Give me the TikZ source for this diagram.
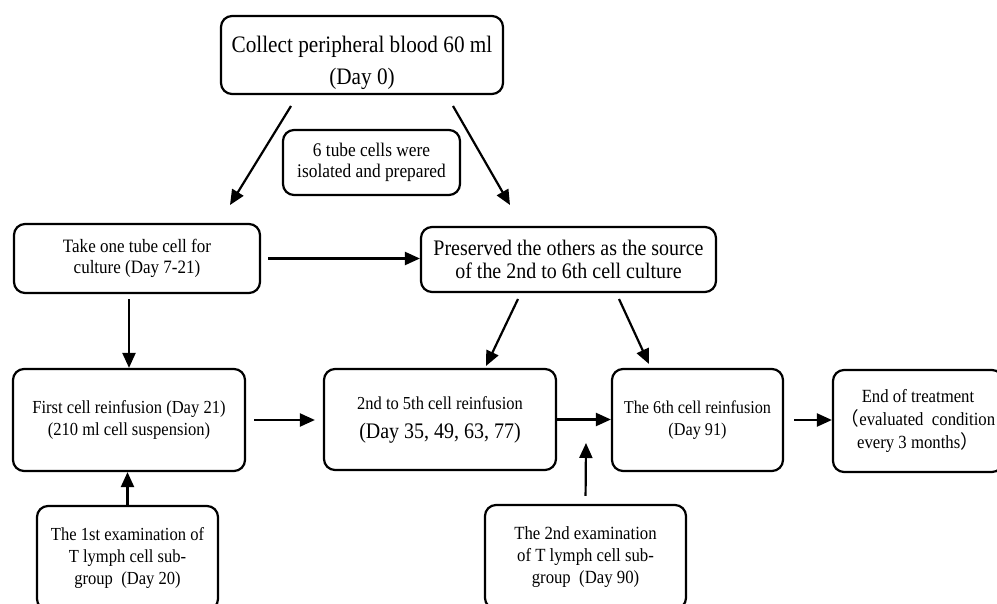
\documentclass[tikz,border=0pt]{standalone}
\usepackage{fontspec}
\setmainfont{Liberation Serif}[FakeStretch=0.9]
\newfontfamily\cjk{Noto Sans CJK SC}
\usetikzlibrary{arrows.meta}

\begin{document}
\begin{tikzpicture}[x=1pt, y=-1pt, line width=2.2pt,
            box/.style={draw, rounded corners=11pt, align=center, inner sep=0pt},
            arr/.style={-{Triangle[length=15pt, width=13pt]}}]
            \clip (0, 0) rectangle (997, 604);

            \node (n_blood) at (362, 55) [box, minimum width=282pt, minimum height=78pt, font=\fontsize{23.6}{32}\selectfont] {\rule{0pt}{32pt}Collect peripheral blood 60 ml\\(Day 0)};
            \node (n_tubes) at (371.5, 162.5) [box, minimum width=177pt, minimum height=65pt, font=\fontsize{19.3}{21}\selectfont] {6 tube cells were\\isolated and prepared};
            \node (n_take) at (137, 258.5) [box, minimum width=246pt, minimum height=69pt, font=\fontsize{18.9}{21}\selectfont] {Take one tube cell for\\culture (Day 7-21)};
            \node (n_keep) at (568.5, 259.5) [box, minimum width=295pt, minimum height=65pt, font=\fontsize{22.2}{23}\selectfont] {Preserved the others as the source\\of the 2nd to 6th cell culture};

            \node (n_first) at (129, 420) [box, minimum width=232pt, minimum height=102pt, font=\fontsize{18.4}{22}\selectfont] {First cell reinfusion (Day 21)\\(210 ml cell suspension)};
            \node (n_mid) at (440, 419.5) [box, minimum width=232pt, minimum height=101pt, font=\fontsize{18.3}{20}\selectfont] {2nd to 5th cell reinfusion\\[9pt]{\fontsize{22.2}{24}\selectfont(Day 35, 49, 63, 77)}};
            \node (n_sixth) at (697.5, 420) [box, minimum width=171pt, minimum height=102pt, font=\fontsize{18}{22}\selectfont] {The 6th cell reinfusion\\(Day 91)};
            \node (n_end) at (918, 421) [box, minimum width=170pt, minimum height=102pt, font=\fontsize{18.6}{23}\selectfont] {End of treatment\\{\cjk （}evaluated\ \ condition\\every 3 months{\cjk ）}};

            \node (n_exam_a) at (127.5, 558) [box, minimum width=181pt, minimum height=104pt, font=\fontsize{18.4}{22}\selectfont] {The 1st examination of\\T lymph cell sub-\\group\ \ (Day 20)};
            \node (n_exam_b) at (585.5, 557) [box, minimum width=201pt, minimum height=104pt, font=\fontsize{18.6}{22}\selectfont] {The 2nd examination\\of T lymph cell sub-\\group\ \ (Day 90)};

            \coordinate (c_la) at (291, 106);
            \coordinate (c_lb) at (230, 205);
            \coordinate (c_ra) at (453, 106);
            \coordinate (c_rb) at (510, 205);
            \coordinate (c_ma) at (518, 299);
            \coordinate (c_mb) at (486, 366);
            \coordinate (c_sa) at (619, 299);
            \coordinate (c_sb) at (649, 364);
            \coordinate (c_up) at (586, 443);

            \draw [arr] (c_la) -- (c_lb);
            \draw [arr] (c_ra) -- (c_rb);
            \draw [arr, shorten <=7pt] (n_take) -- (n_take -| n_keep.west);
            \draw [arr, shorten <=5pt] (n_first.north |- n_take.south) -- (n_first.north);
            \draw [arr] (c_ma) -- (c_mb);
            \draw [arr] (c_sa) -- (c_sb);
            \draw [arr, shorten <=8pt, shorten >=8pt] (n_first.east) -- (n_first.east -| n_mid.west);
            \draw [arr] (n_mid.east) -- (n_mid.east -| n_sixth.west);
            \draw [arr, shorten <=10pt] (n_sixth.east) -- (n_sixth.east -| n_end.west);
            \draw [arr] (n_exam_a.north) -- (n_exam_a.north |- n_first.south);
            \draw [arr, shorten <=8pt] (n_exam_b.north) -- (c_up);
        \end{tikzpicture}
\end{document}
